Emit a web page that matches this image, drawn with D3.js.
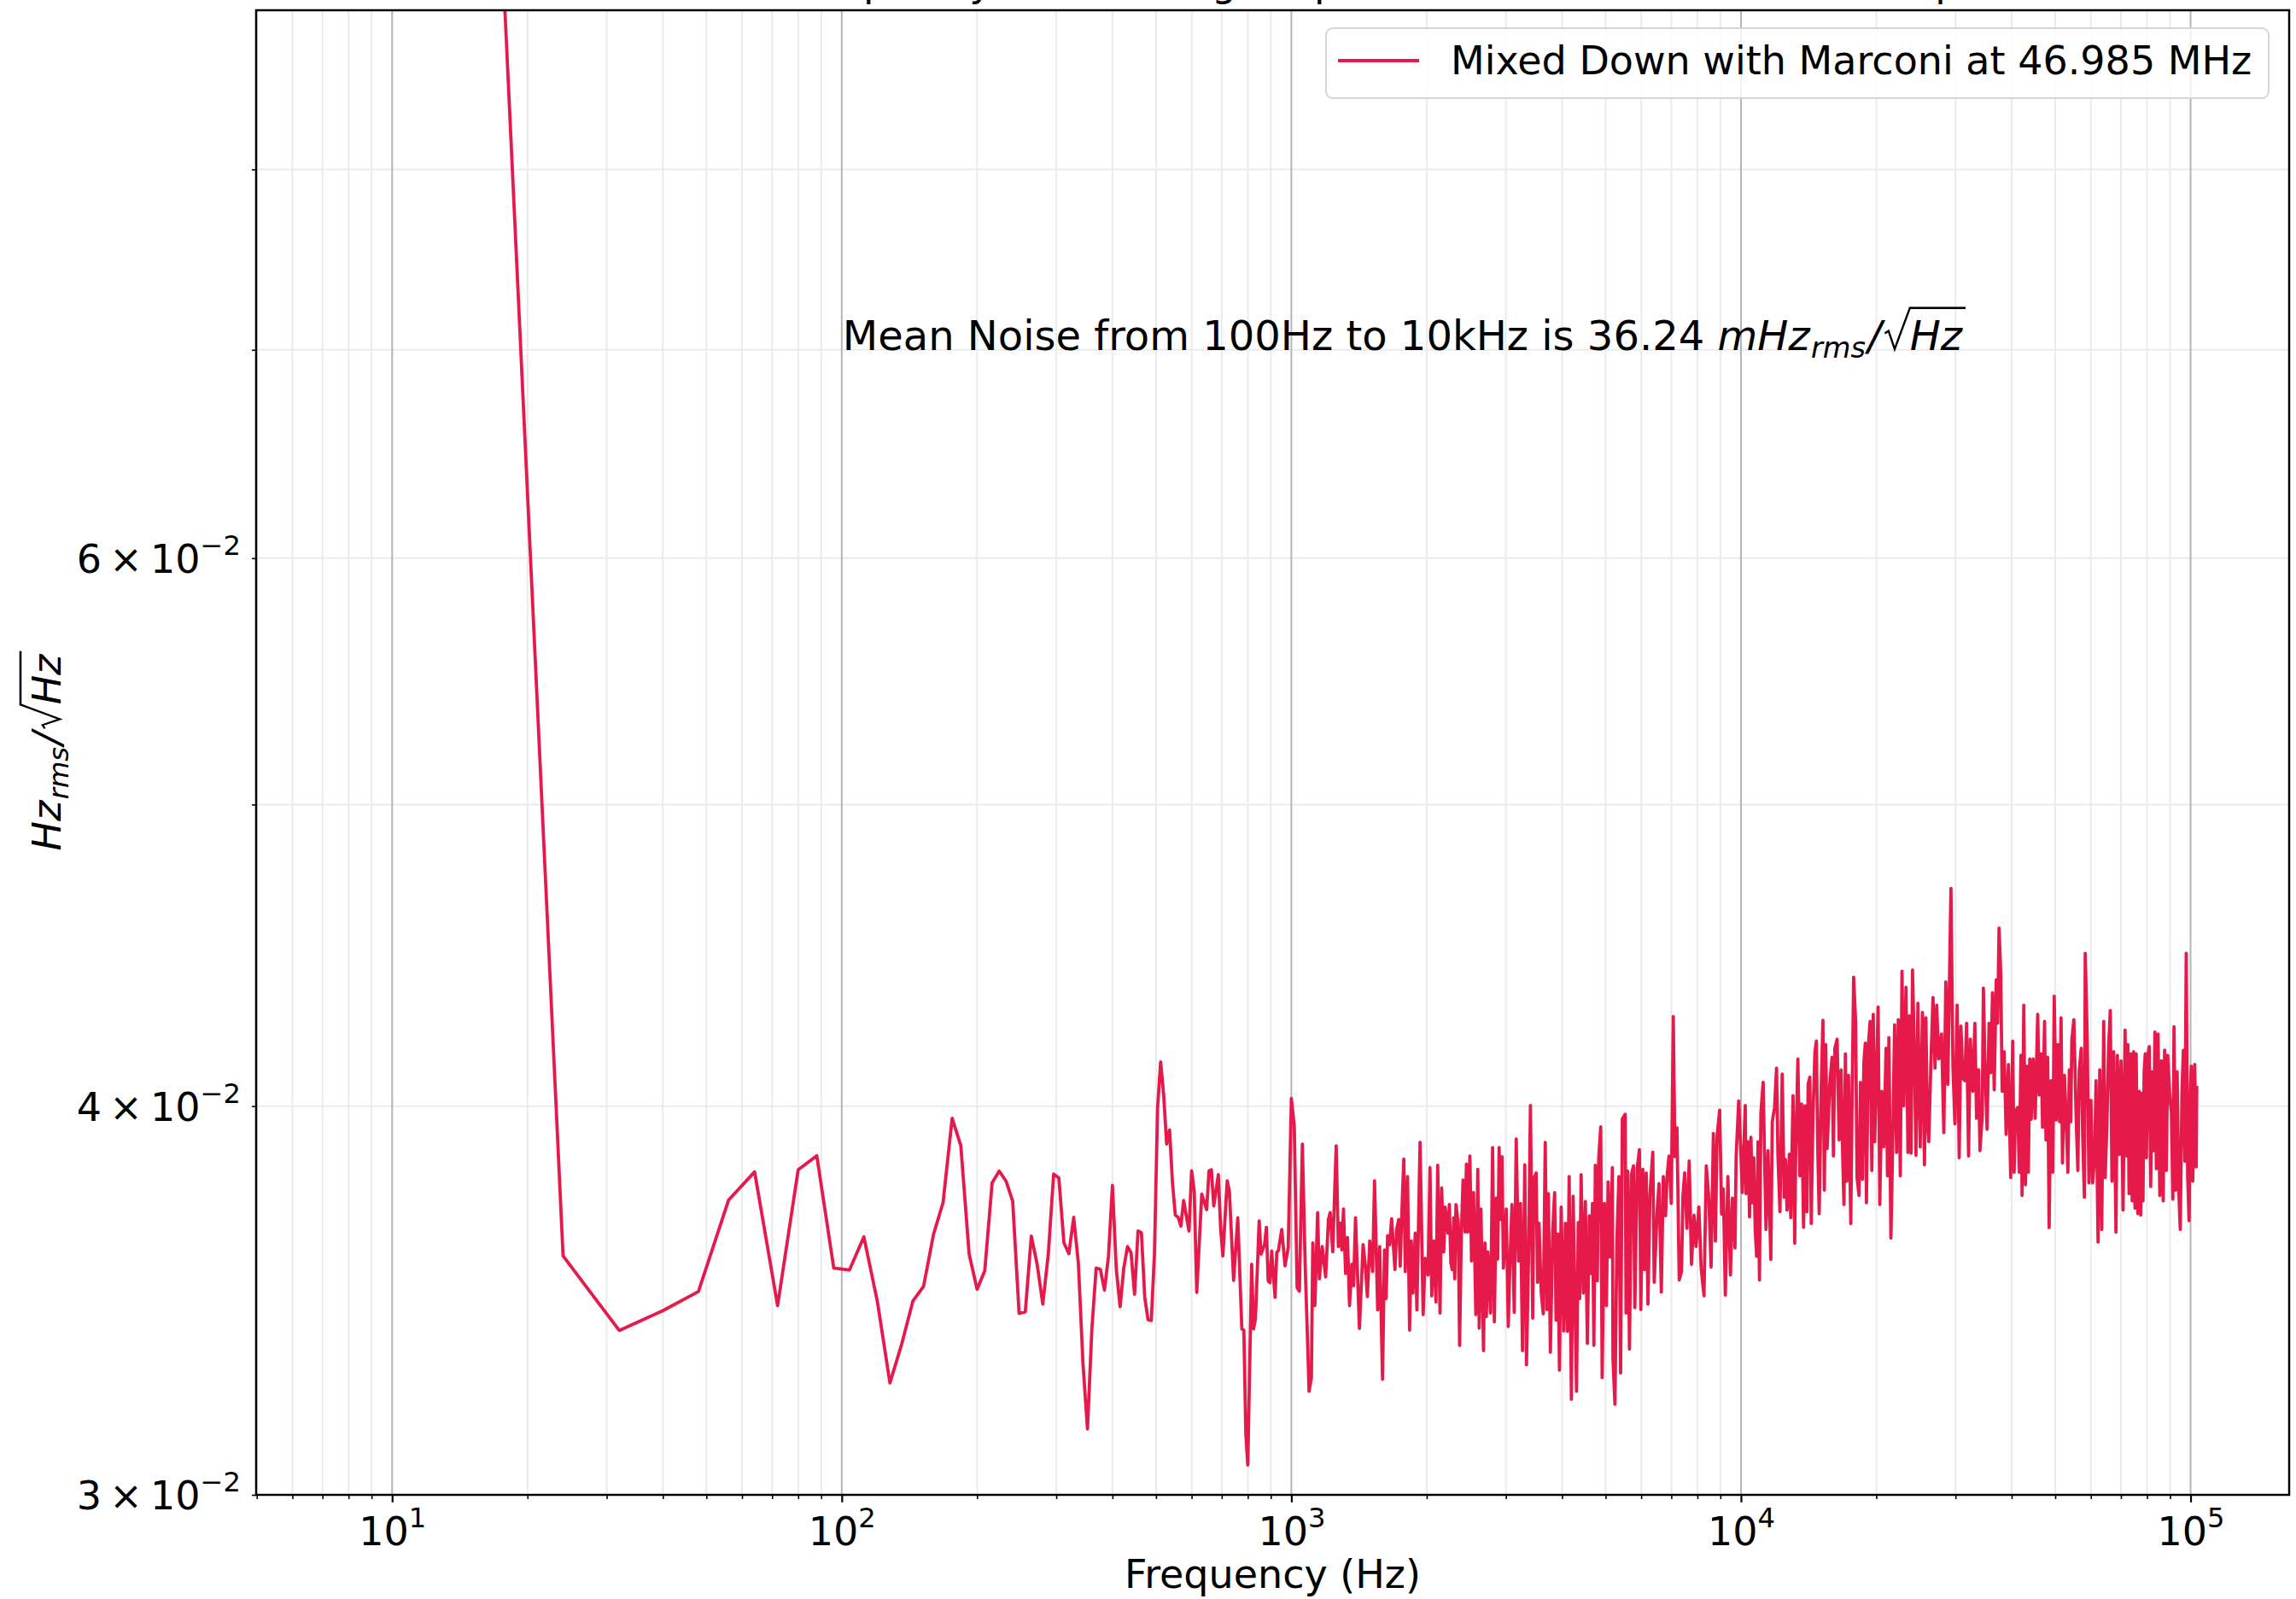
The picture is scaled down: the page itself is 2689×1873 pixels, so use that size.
<!DOCTYPE html>
<html>
<head>
<meta charset="utf-8">
<script src="https://cdn.jsdelivr.net/npm/d3@7"></script>
<style>
  body { margin: 0; background: #fff; }
  svg { display: block; font-family: "DejaVu Sans", sans-serif; }
</style>
</head>
<body>
<script>
// Noise spectrum: [frequency (Hz), noise (Hz_rms / sqrt(Hz))]
// 8 Hz point sits far above the top of the axes (DC leakage), value estimated
var lowBand = [[8, 0.40], [16, 0.1256], [24, 0.0358], [32, 0.03388], [40, 0.03438], [48, 0.03487],
  [56, 0.03731], [64, 0.0381], [72, 0.03451], [80, 0.03816], [88, 0.03856], [96, 0.03548]];

var audioBand = [[104, 0.03543], [112, 0.03631], [120, 0.03462], [128, 0.03259], [136, 0.03355], [144, 0.03463],
  [152, 0.035], [160, 0.03638], [168, 0.03724], [176, 0.03964], [184, 0.03885], [192, 0.03585], [200, 0.03493],
  [208, 0.03541], [216, 0.03779], [224, 0.03812], [232, 0.03784], [240, 0.03728], [248, 0.03431], [256, 0.03435],
  [264, 0.03633], [272, 0.03558], [280, 0.03455], [288, 0.03585], [296, 0.03804], [304, 0.03793], [312, 0.03615],
  [320, 0.03586], [328, 0.03684], [336, 0.0356], [344, 0.03305], [352, 0.0315], [360, 0.03392], [368, 0.03548],
  [376, 0.03545], [384, 0.03491], [392, 0.0358], [400, 0.03772], [408, 0.03545], [416, 0.03448], [424, 0.03549],
  [432, 0.03605], [440, 0.03589], [448, 0.0348], [456, 0.03647], [464, 0.03642], [472, 0.03472], [480, 0.03415],
  [488, 0.03413], [496, 0.03585], [504, 0.03994], [512, 0.04133], [520, 0.04033], [528, 0.03889], [536, 0.0393],
  [544, 0.03779], [552, 0.0369], [560, 0.03684], [568, 0.0366], [576, 0.0373], [592, 0.03647], [600, 0.03813],
  [608, 0.03756], [616, 0.03485], [632, 0.03748], [648, 0.03705], [656, 0.03813], [664, 0.03816], [672, 0.03715],
  [688, 0.03802], [696, 0.03656], [704, 0.0358], [720, 0.03785], [728, 0.03756], [744, 0.03516], [760, 0.03683],
  [776, 0.03392], [784, 0.03389], [792, 0.03139], [800, 0.03067], [816, 0.03558], [824, 0.03392], [832, 0.03417],
  [848, 0.03674], [856, 0.03585], [872, 0.03611], [880, 0.03657], [888, 0.03515], [896, 0.0351], [904, 0.03593],
  [920, 0.03472], [928, 0.03589], [936, 0.03595], [952, 0.03651], [968, 0.03554], [984, 0.03602], [1000, 0.04023]];

var kiloBand = [[1015, 0.03941], [1030, 0.03497], [1042, 0.03488], [1058, 0.03889], [1073, 0.03563], [1095, 0.03239],
  [1108, 0.03272], [1116, 0.03615], [1128, 0.03451], [1144, 0.03697], [1154, 0.0352], [1171, 0.03605], [1192, 0.03525],
  [1209, 0.03678], [1220, 0.03697], [1236, 0.03591], [1258, 0.03884], [1272, 0.03605], [1287, 0.03668], [1295, 0.03596],
  [1306, 0.03707], [1320, 0.03534], [1333, 0.03629], [1347, 0.03451], [1363, 0.03558], [1375, 0.03502], [1389, 0.03683],
  [1417, 0.03393], [1444, 0.0361], [1461, 0.03553], [1476, 0.03474], [1494, 0.0362], [1516, 0.03539], [1531, 0.03785],
  [1556, 0.0344], [1572, 0.03605], [1595, 0.03268], [1611, 0.03596], [1625, 0.03469], [1637, 0.03634], [1654, 0.0361],
  [1671, 0.0368], [1700, 0.03544], [1715, 0.03651], [1733, 0.03678], [1746, 0.03553], [1766, 0.03742], [1779, 0.03846],
  [1792, 0.03539], [1813, 0.03797], [1832, 0.03389], [1848, 0.0362], [1864, 0.03483], [1886, 0.03641], [1902, 0.0344],
  [1933, 0.03894], [1964, 0.03428], [1984, 0.03574], [2014, 0.0353], [2034, 0.03822], [2052, 0.03476], [2073, 0.0362],
  [2097, 0.0346], [2116, 0.03829], [2141, 0.03432], [2159, 0.03765], [2182, 0.03591], [2198, 0.03712], [2230, 0.03641],
  [2246, 0.03719], [2263, 0.03562], [2279, 0.03544], [2296, 0.03683], [2309, 0.0352], [2323, 0.03719], [2350, 0.03668],
  [2367, 0.03351], [2388, 0.03639], [2409, 0.03787], [2434, 0.03644], [2451, 0.03832], [2469, 0.03644], [2495, 0.03855],
  [2516, 0.03567], [2542, 0.03752], [2572, 0.03428], [2598, 0.03817], [2617, 0.03394], [2640, 0.03707], [2675, 0.03338],
  [2695, 0.03615], [2715, 0.03423], [2734, 0.03591], [2774, 0.03432], [2803, 0.03879], [2828, 0.0341], [2856, 0.03737],
  [2877, 0.03572], [2898, 0.03879], [2920, 0.03678], [2941, 0.03853], [2962, 0.03548], [3006, 0.03707], [3037, 0.03398],
  [3063, 0.03563], [3095, 0.03719], [3131, 0.03434], [3163, 0.03904], [3200, 0.03567], [3233, 0.03722], [3266, 0.03338],
  [3305, 0.0383], [3334, 0.03303]];

var upperKiloBand = [[3368, 0.03567], [3402, 0.04002], [3442, 0.03419], [3462, 0.03792], [3503, 0.03807], [3528, 0.03511],
  [3554, 0.03668], [3596, 0.03483], [3633, 0.0343], [3670, 0.03894], [3702, 0.03441], [3729, 0.03749], [3768, 0.03334],
  [3812, 0.03644], [3851, 0.03752], [3879, 0.03414], [3913, 0.03639], [3947, 0.0329], [3982, 0.03712], [4034, 0.03387],
  [4070, 0.03668], [4112, 0.03386], [4148, 0.03797], [4196, 0.0322], [4233, 0.03742], [4308, 0.03239], [4346, 0.0367],
  [4378, 0.03469], [4410, 0.03802], [4461, 0.03483], [4507, 0.03727], [4553, 0.03356], [4600, 0.03688], [4640, 0.03534],
  [4674, 0.03722], [4708, 0.03351], [4743, 0.03829], [4791, 0.03515], [4826, 0.03848], [4876, 0.03939], [4912, 0.03272],
  [4969, 0.03722], [5020, 0.03451], [5064, 0.03782], [5116, 0.03577], [5176, 0.03822], [5191, 0.0332], [5244, 0.03208],
  [5298, 0.03625], [5352, 0.03797], [5399, 0.03283], [5447, 0.03962], [5527, 0.03976], [5551, 0.03432], [5600, 0.03812],
  [5649, 0.03342], [5707, 0.03802], [5765, 0.03827], [5807, 0.03446], [5876, 0.03817], [5944, 0.03873], [5988, 0.03441],
  [6049, 0.03817], [6102, 0.03544], [6156, 0.03807], [6210, 0.03455], [6274, 0.03747], [6366, 0.03866], [6412, 0.03511],
  [6506, 0.03697], [6573, 0.03777], [6650, 0.03486], [6718, 0.03797], [6797, 0.03688], [6847, 0.03797], [6917, 0.03855],
  [6998, 0.03722], [7070, 0.04274], [7132, 0.03853], [7205, 0.03936], [7289, 0.03517], [7375, 0.03539], [7429, 0.03742],
  [7494, 0.03807], [7582, 0.03654], [7671, 0.03841], [7761, 0.03558], [7863, 0.0369], [7944, 0.03605], [8060, 0.03712],
  [8155, 0.03548], [8275, 0.03476], [8372, 0.03827], [8482, 0.03737], [8581, 0.03551], [8682, 0.0392], [8771, 0.0362],
  [8848, 0.03912], [8965, 0.03988], [9057, 0.03693], [9136, 0.03762], [9230, 0.03478], [9352, 0.03797], [9475, 0.0353],
  [9572, 0.03737], [9699, 0.03601], [9755, 0.03853], [9884, 0.04015], [9971, 0.03894], [10073, 0.03752], [10221, 0.04002]];

var tenKiloBand = [[10266, 0.03749], [10371, 0.03896], [10447, 0.03685], [10523, 0.03909], [10600, 0.03724], [10678, 0.0385],
  [10756, 0.03651], [10834, 0.03579], [10913, 0.03896], [10993, 0.03517], [11074, 0.0398], [11203, 0.04071], [11286, 0.03845],
  [11368, 0.03651], [11485, 0.0387], [11653, 0.03571], [11738, 0.03954], [11876, 0.03996], [11998, 0.04114], [12085, 0.03855],
  [12209, 0.03699], [12352, 0.04096], [12479, 0.03739], [12552, 0.03845], [12662, 0.03704], [12811, 0.0386], [12904, 0.03683],
  [13055, 0.04031], [13170, 0.03614], [13228, 0.03845], [13383, 0.04142], [13520, 0.03799], [13639, 0.04006], [13779, 0.03657],
  [13879, 0.04001], [14022, 0.03699], [14104, 0.04065], [14228, 0.04087], [14331, 0.03667], [14457, 0.03969], [14605, 0.04164],
  [14712, 0.04197], [14820, 0.0387], [14928, 0.03694], [15081, 0.04054], [15214, 0.04262], [15325, 0.03759], [15437, 0.04186],
  [15550, 0.03876], [15755, 0.04065], [15940, 0.04147], [16056, 0.03855], [16174, 0.04175], [16363, 0.04203], [16531, 0.03901],
  [16700, 0.04109], [16847, 0.0384], [16946, 0.03719], [17069, 0.04158], [17194, 0.03784], [17345, 0.04092], [17549, 0.03667],
  [17651, 0.03975], [17806, 0.044], [17989, 0.04259], [18120, 0.03794], [18306, 0.03744], [18440, 0.04071], [18629, 0.03789],
  [18765, 0.04131], [18902, 0.04191], [19013, 0.03724], [19208, 0.04186], [19376, 0.04259], [19546, 0.03814], [19690, 0.04281],
  [19833, 0.03896], [19978, 0.04054], [20183, 0.04304], [20360, 0.03719], [20569, 0.04044], [20780, 0.03881], [21023, 0.04175],
  [21177, 0.03799], [21332, 0.04208], [21551, 0.03628], [21740, 0.03876], [21963, 0.04248], [22188, 0.03865], [22383, 0.04264],
  [22612, 0.03799], [22811, 0.0442], [23011, 0.04001], [23281, 0.04368], [23519, 0.03865], [23691, 0.04276], [23899, 0.03863],
  [24074, 0.04424], [24321, 0.04142], [24499, 0.03857], [24750, 0.04316], [25040, 0.03881], [25334, 0.04287], [25594, 0.0383],
  [25780, 0.0427], [25969, 0.03959], [26159, 0.03896], [26427, 0.04114], [26737, 0.04335], [27011, 0.04114], [27248, 0.0431],
  [27528, 0.04142], [27931, 0.04219], [28259, 0.03922], [28548, 0.04385], [28841, 0.04065], [29307, 0.04699], [29607, 0.0412],
  [29911, 0.03948], [30262, 0.0431], [30572, 0.0385], [30840, 0.04244], [31157, 0.04082], [31476, 0.04076], [31753, 0.04253],
  [32078, 0.03855], [32362, 0.04203]];

var topBand = [[32790, 0.04044], [33126, 0.04253], [33417, 0.03964], [33760, 0.04109], [34006, 0.0387], [34405, 0.03971],
  [34606, 0.04365], [34910, 0.04109], [35268, 0.03932], [35630, 0.04253], [35942, 0.041], [36258, 0.0435], [36577, 0.04049],
  [36951, 0.04391], [37222, 0.04253], [37494, 0.04563], [37823, 0.04414], [38099, 0.04044], [38490, 0.04164], [38885, 0.03917],
  [39341, 0.04125], [39802, 0.03794], [40210, 0.04197], [40504, 0.03809], [40800, 0.03985], [41278, 0.03996], [41580, 0.03809],
  [41945, 0.04153], [42190, 0.03744], [42560, 0.0431], [42934, 0.03774], [43312, 0.0412], [43565, 0.03809], [43883, 0.04142],
  [44204, 0.03961], [44657, 0.04142], [45115, 0.03964], [45710, 0.04281], [46044, 0.04033], [46516, 0.04158], [46856, 0.03938],
  [47337, 0.04259], [47683, 0.03901], [48101, 0.04147], [48453, 0.03656], [48950, 0.04076], [49380, 0.03809], [49740, 0.04339],
  [50251, 0.03959], [50692, 0.04186], [51137, 0.03954], [51511, 0.0427], [51887, 0.03835], [52419, 0.04092], [52879, 0.03964],
  [53344, 0.03809], [53734, 0.04109], [54127, 0.03954], [54443, 0.04203], [55003, 0.04264], [55648, 0.03969], [56135, 0.03814],
  [56545, 0.04109], [57125, 0.04175], [57543, 0.03917], [58048, 0.03739], [58302, 0.04479], [58900, 0.04208], [59417, 0.03779],
  [60027, 0.04017], [60553, 0.03779], [61174, 0.03855], [61621, 0.04076], [62253, 0.03617], [62801, 0.04109], [63443, 0.03651],
  [64094, 0.04259], [64562, 0.03794], [65129, 0.03938], [65701, 0.04175], [66278, 0.04293], [66860, 0.03784], [67446, 0.04164],
  [68237, 0.03644], [68736, 0.04153], [69441, 0.0386], [70050, 0.04136], [70768, 0.03704], [71494, 0.04231], [72122, 0.03855],
  [72543, 0.04186], [72968, 0.03749], [73608, 0.04158], [74146, 0.03729], [74688, 0.04164], [75234, 0.03709], [75674, 0.04158],
  [76338, 0.03694], [76897, 0.04044], [77459, 0.0369], [77798, 0.04038], [78367, 0.03729], [78825, 0.04103], [79285, 0.04158],
  [79749, 0.0385], [80332, 0.04153], [80919, 0.0418], [81511, 0.03769], [82107, 0.04103], [82707, 0.0387], [83312, 0.04225],
  [83921, 0.03819], [84658, 0.04219], [85402, 0.03744], [86151, 0.04136], [86907, 0.03729], [87543, 0.04169], [88312, 0.03814],
  [88957, 0.04153], [89869, 0.04033], [90658, 0.0398], [91321, 0.03734], [91855, 0.04242], [92661, 0.03759], [93339, 0.04103],
  [94158, 0.03754], [94847, 0.03651], [95679, 0.04044], [96379, 0.04169], [97084, 0.0384], [97793, 0.04479], [98509, 0.03799],
  [99229, 0.03675], [99956, 0.04054], [100392, 0.0412], [101126, 0.03784], [102163, 0.04125], [102910, 0.03824], [103211, 0.0406]];

var yDomain = [0.03, 0.09];
var xLabelTicks = [10, 100, 1000, 10000, 100000];
var yLabelTicks = [0.03, 0.04, 0.06];

var titleText = "Measured Frequency Noise Using Amplitude Detection, Marconi Setup";
var legendLabel = "Mixed Down with Marconi at 46.985 MHz";
var noteText = "Mean Noise from 100Hz to 10kHz is 36.24 ";
var noteAt = [100, 0.07];
var lineColor = "#e6194b";

//Define size
var width = 2689, height = 1873;
var plot = {left: 300, right: 2681, top: 12, bottom: 1751};
var fs = 46;

var svg = d3.select("body").append("svg")
    .attr("width", width)
    .attr("height", height);

var series = lowBand.concat(audioBand, kiloBand, upperKiloBand, tenKiloBand, topBand);

// matplotlib style 5% margin in log space
var lx = d3.extent(series, function(d) { return Math.log10(d[0]); });
var pad = (lx[1] - lx[0]) * 0.05;

var x = d3.scaleLog()
    .domain([Math.pow(10, lx[0] - pad), Math.pow(10, lx[1] + pad)])
    .range([plot.left, plot.right]);

var y = d3.scaleLog()
    .domain(yDomain)
    .range([plot.bottom, plot.top]);

var xTicks = x.ticks();
var xMajor = xTicks.filter(function(d) { return Math.abs(Math.log10(d) - Math.round(Math.log10(d))) < 1e-9; });
var xMinor = xTicks.filter(function(d) { return xMajor.indexOf(d) < 0; });
var yMinor = y.ticks().filter(function(d) { return y(d) > plot.top + 1; });

// title, mostly cut off at the top of the figure
svg.append("text")
    .attr("x", (plot.left + plot.right) / 2)
    .attr("y", -5)
    .attr("text-anchor", "middle")
    .attr("font-size", fs)
    .text(titleText);

// grid
var grid = svg.append("g");
grid.selectAll(".xminor").data(xMinor).enter().append("line")
    .attr("x1", function(d) { return x(d); }).attr("x2", function(d) { return x(d); })
    .attr("y1", plot.top).attr("y2", plot.bottom)
    .attr("stroke", "#ebebeb").attr("stroke-width", 2);
grid.selectAll(".yminor").data(yMinor).enter().append("line")
    .attr("y1", function(d) { return y(d); }).attr("y2", function(d) { return y(d); })
    .attr("x1", plot.left).attr("x2", plot.right)
    .attr("stroke", "#ebebeb").attr("stroke-width", 2);
grid.selectAll(".xmajor").data(xMajor).enter().append("line")
    .attr("x1", function(d) { return x(d); }).attr("x2", function(d) { return x(d); })
    .attr("y1", plot.top).attr("y2", plot.bottom)
    .attr("stroke", "#b4b4b4").attr("stroke-width", 2);

svg.append("clipPath").attr("id", "clip")
    .append("rect")
    .attr("x", plot.left).attr("y", plot.top)
    .attr("width", plot.right - plot.left).attr("height", plot.bottom - plot.top);

var line = d3.line()
    .x(function(d) { return x(d[0]); })
    .y(function(d) { return y(d[1]); });

svg.append("path")
    .datum(series)
    .attr("clip-path", "url(#clip)")
    .attr("d", line)
    .attr("fill", "none")
    .attr("stroke", lineColor)
    .attr("stroke-width", 3.8)
    .attr("stroke-linejoin", "round");

// axes
function styleAxis(g) {
    g.attr("font-family", "DejaVu Sans").attr("font-size", fs);
    g.select(".domain").remove();
    g.selectAll(".tick line").attr("stroke", "#000");
}

svg.append("g")
    .attr("transform", "translate(0," + plot.bottom + ")")
    .call(d3.axisBottom(x).tickValues(xMinor).tickSize(5).tickFormat(""))
    .call(styleAxis)
    .selectAll(".tick line").attr("stroke-width", 1.6);

var xLab = svg.append("g")
    .attr("transform", "translate(0," + plot.bottom + ")")
    .call(d3.axisBottom(x).tickValues(xLabelTicks).tickSize(8.75).tickPadding(10).tickFormat(""))
    .call(styleAxis);
xLab.selectAll(".tick line").attr("stroke-width", 2.2);
xLab.selectAll(".tick text")
    .attr("fill", "#000")
    .attr("y", 59).attr("dy", null)
    .each(function(d) {
        var t = d3.select(this);
        t.append("tspan").text("10");
        t.append("tspan").attr("dy", -21).attr("font-size", fs * 0.7).text(Math.round(Math.log10(d)));
    });

svg.append("g")
    .attr("transform", "translate(" + plot.left + ",0)")
    .call(d3.axisLeft(y).tickValues(yMinor).tickSize(5).tickFormat(""))
    .call(styleAxis)
    .selectAll(".tick line").attr("stroke-width", 1.6);

var yLab = svg.append("g")
    .attr("transform", "translate(" + plot.left + ",0)")
    .call(d3.axisLeft(y).tickValues(yLabelTicks).tickSize(0).tickPadding(18).tickFormat(""))
    .call(styleAxis);
yLab.selectAll(".tick text")
    .attr("fill", "#000")
    .attr("dy", 16.5)
    .each(function(d) {
        var t = d3.select(this);
        var e = Math.floor(Math.log10(d) + 1e-9);
        var m = Math.round(d / Math.pow(10, e));
        t.append("tspan").text(m + "\u2009\u00d7\u200910");
        t.append("tspan").attr("dy", -21).attr("font-size", fs * 0.7).text("\u2212" + (-e));
    });

// frame
svg.append("rect")
    .attr("x", plot.left).attr("y", plot.top)
    .attr("width", plot.right - plot.left).attr("height", plot.bottom - plot.top)
    .attr("fill", "none").attr("stroke", "#000").attr("stroke-width", 2.5);

// pieces of math text laid out one after another
function mathText(g, parts, size) {
    var cx = 0;
    parts.forEach(function(p) {
        if (p.sqrt) {
            var rw = size * 0.66;
            g.append("path")
                .attr("d", "M" + [cx + size * 0.05, -size * 0.40] + "L" + [cx + size * 0.14, -size * 0.46] +
                    "L" + [cx + size * 0.29, -size * 0.02] + "L" + [cx + rw, -size * 1.02])
                .attr("fill", "none").attr("stroke", "#000")
                .attr("stroke-width", size * 0.05).attr("stroke-linejoin", "miter");
            cx += rw;
        }
        var t = g.append("text")
            .attr("x", cx)
            .attr("y", p.sub ? size * 0.2 : 0)
            .attr("font-size", p.sub ? size * 0.7 : size)
            .attr("font-style", p.it ? "italic" : "normal")
            .text(p.t);
        var w = t.node().getComputedTextLength();
        if (p.sqrt) {
            g.append("rect")
                .attr("x", cx - 1).attr("y", -size * 1.05)
                .attr("width", w + 5).attr("height", size * 0.055);
        }
        cx += w + (p.gap || 0) * size;
    });
    return cx;
}

var unitParts = [{t: "Hz", it: true, gap: 0.03}, {t: "rms", it: true, sub: true, gap: 0.05},
    {t: "/", it: true, gap: 0.03}, {t: "Hz", it: true, sqrt: true}];

// y label
var ylab = svg.append("g")
    .attr("transform", "translate(71," + (plot.top + plot.bottom) / 2 + ") rotate(-90)");
var ylabInner = ylab.append("g");
var yw = mathText(ylabInner, unitParts, fs);
ylabInner.attr("transform", "translate(" + (-yw / 2) + ",0)");

// x label
svg.append("text")
    .attr("x", (plot.left + plot.right) / 2)
    .attr("y", 1860)
    .attr("text-anchor", "middle")
    .attr("font-size", fs)
    .text("Frequency (Hz)");

// annotation at data coordinates
var note = svg.append("g")
    .attr("transform", "translate(" + (x(noteAt[0]) + 1) + "," + y(noteAt[1]) + ")");
var nfs = 48;
var noteLead = note.append("text")
    .attr("x", 0).attr("y", 0)
    .attr("font-size", nfs)
    .attr("xml:space", "preserve")
    .style("white-space", "pre")
    .text(noteText);
var lead = noteLead.node().getComputedTextLength();
var noteMath = note.append("g").attr("transform", "translate(" + lead + ",0)");
mathText(noteMath, [{t: "mHz", it: true, gap: 0.03}, {t: "rms", it: true, sub: true, gap: 0.05},
    {t: "/", it: true, gap: 0.03}, {t: "Hz", it: true, sqrt: true}], nfs);

// legend
var legend = svg.append("g");
legend.append("rect")
    .attr("x", 1553).attr("y", 33)
    .attr("width", 1104).attr("height", 82)
    .attr("rx", 8)
    .attr("fill", "#fff").attr("fill-opacity", 0.8)
    .attr("stroke", "#d5d5d5").attr("stroke-width", 2);
legend.append("line")
    .attr("x1", 1567).attr("x2", 1662)
    .attr("y1", 71).attr("y2", 71)
    .attr("stroke", lineColor).attr("stroke-width", 3.8);
legend.append("text")
    .attr("x", 1699).attr("y", 87)
    .attr("font-size", fs)
    .text(legendLabel);
</script>
</body>
</html>
